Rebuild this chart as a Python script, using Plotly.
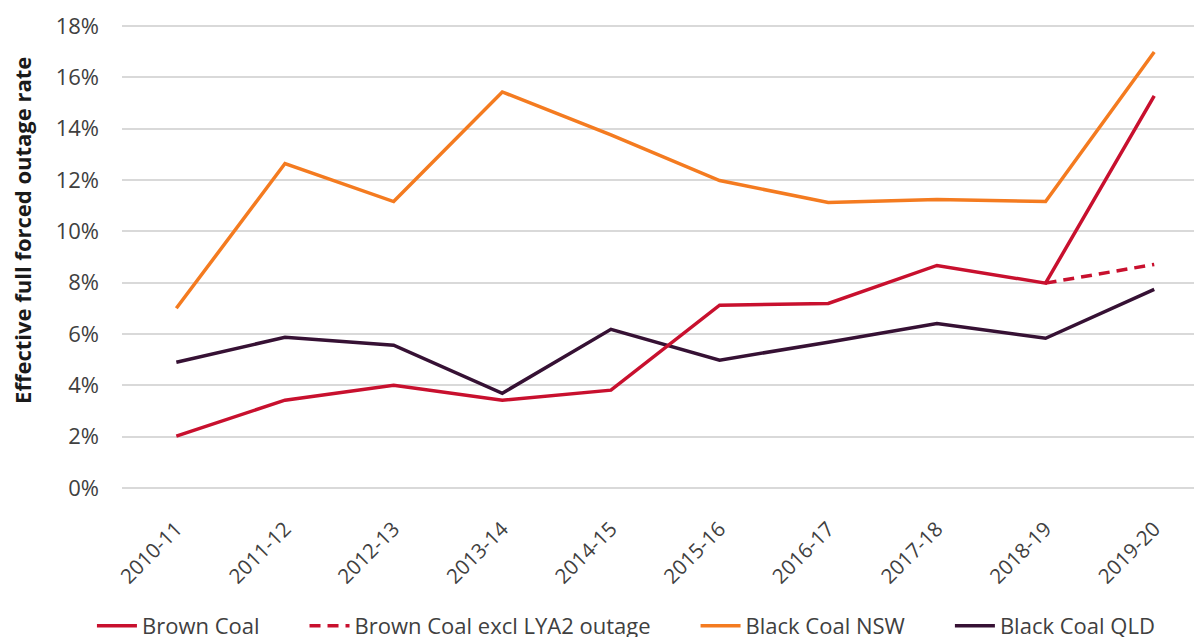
import plotly.graph_objects as go

years = ["2010-11", "2011-12", "2012-13", "2013-14", "2014-15",
         "2015-16", "2016-17", "2017-18", "2018-19", "2019-20"]
brown_coal = [2.02, 3.42, 4.00, 3.42, 3.81, 7.12, 7.19, 8.67, 7.98, 15.28]
brown_coal_excl = [None, None, None, None, None, None, None, None, 7.98, 8.71]
black_nsw = [7.00, 12.64, 11.16, 15.43, 13.76, 11.98, 11.12, 11.24, 11.16, 16.99]
black_qld = [4.90, 5.87, 5.56, 3.69, 6.18, 4.98, 5.68, 6.41, 5.83, 7.74]
y_ticks = [0, 2, 4, 6, 8, 10, 12, 14, 16, 18]
y_tick_labels = [f"{v}%" for v in y_ticks]

RED = "#C8102E"
ORANGE = "#F47B20"
PURPLE = "#361134"
FONT = "Open Sans"
PAD = "\u00a0" * 7

fig = go.Figure()
fig.add_trace(go.Scatter(x=years, y=brown_coal_excl, mode="lines", name="Brown Coal excl LYA2 outage" + PAD,
                         line=dict(color=RED, width=3.5, dash="11px,7px"), legendrank=2))
fig.add_trace(go.Scatter(x=years, y=black_qld, mode="lines", name="Black Coal QLD",
                         line=dict(color=PURPLE, width=3.5), legendrank=4))
fig.add_trace(go.Scatter(x=years, y=black_nsw, mode="lines", name="Black Coal NSW" + PAD,
                         line=dict(color=ORANGE, width=3.5), legendrank=3))
fig.add_trace(go.Scatter(x=years, y=brown_coal, mode="lines", name="Brown Coal" + PAD,
                         line=dict(color=RED, width=3.5), legendrank=1))

fig.update_layout(
    width=1194, height=647,
    margin=dict(l=122, r=0, t=16, b=147),
    paper_bgcolor="white", plot_bgcolor="white",
    font=dict(family=FONT, size=22, color="#404040"),
    showlegend=True,
    legend=dict(orientation="h", xref="container", yref="container",
                x=0.077, xanchor="left", y=0, yanchor="bottom",
                font=dict(size=22, color="#404040"), traceorder="normal",
                itemwidth=40, tracegroupgap=0),
    xaxis=dict(type="category", range=[-0.5, 9.366], showgrid=False,
               tickangle=-45, ticks="", showline=False, automargin=False,
               ticklabelstandoff=12,
               tickfont=dict(size=20.5, color="#404040")),
    yaxis=dict(range=[-0.47, 18.39], tickvals=y_ticks, ticktext=y_tick_labels,
               showgrid=True, gridcolor="#D9D9D9", gridwidth=1.5,
               zeroline=False, showline=False, ticks="", ticklen=0,
               automargin=False, ticklabelstandoff=22,
               tickfont=dict(size=22, color="#404040")),
    annotations=[dict(text="<b>Effective full forced outage rate</b>",
                      xref="paper", yref="paper", x=-0.0933, y=0.558,
                      xanchor="center", yanchor="middle", textangle=-90,
                      showarrow=False, font=dict(size=22, color="#1a1a1a"))],
)

fig.write_html("out.html", config={"displayModeBar": False},
               post_script="document.body.style.margin='0';document.body.style.overflow='hidden';")
